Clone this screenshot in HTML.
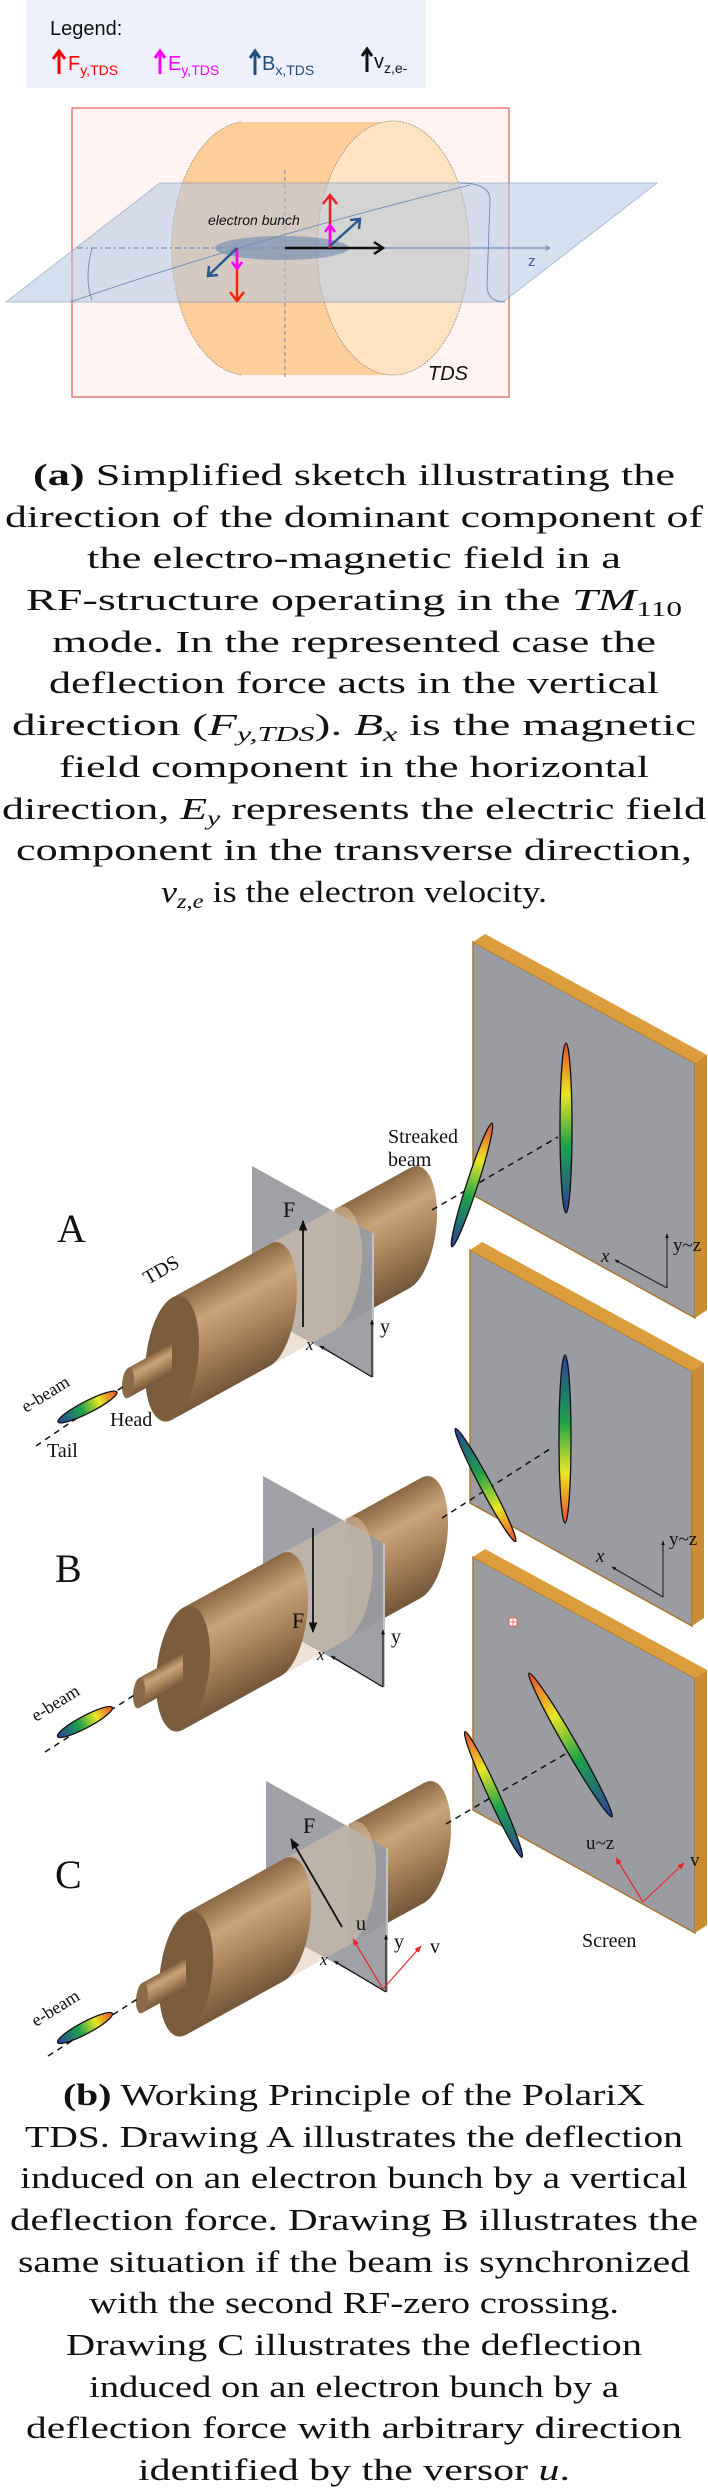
<!DOCTYPE html>
<html><head><meta charset="utf-8"><style>
html,body{margin:0;padding:0;background:#fff;}
svg{display:block;}
.cap{font-family:"Liberation Serif",serif;font-size:31px;fill:#111;}
.lab{font-family:"Liberation Serif",serif;fill:#111;}
.sans{font-family:"Liberation Sans",sans-serif;}
</style></head><body>
<svg width="708" height="2490" viewBox="0 0 708 2490" xmlns="http://www.w3.org/2000/svg">
<defs>
<linearGradient id="bodyG" x1="0" y1="0" x2="0" y2="1">
<stop offset="0" stop-color="#8a6843"/><stop offset="0.3" stop-color="#c9a47a"/><stop offset="0.55" stop-color="#b08a60"/><stop offset="1" stop-color="#74563a"/>
</linearGradient>
<linearGradient id="rb" x1="0" y1="0" x2="1" y2="0">
<stop offset="0" stop-color="#2b3f9c"/><stop offset="0.4" stop-color="#1ea24a"/><stop offset="0.7" stop-color="#e9e626"/><stop offset="1" stop-color="#ea4a2a"/>
</linearGradient>
<marker id="ah" viewBox="0 0 10 10" refX="9" refY="5" markerWidth="6" markerHeight="6" orient="auto"><path d="M0,1 L10,5 L0,9 z" fill="#111"/></marker>
<marker id="ahr" viewBox="0 0 10 10" refX="9" refY="5" markerWidth="6" markerHeight="6" orient="auto"><path d="M0,1 L10,5 L0,9 z" fill="#e8262a"/></marker>
<marker id="ahs" viewBox="0 0 10 10" refX="9" refY="5" markerWidth="4" markerHeight="4" orient="auto"><path d="M0,1 L10,5 L0,9 z" fill="#111"/></marker>
<marker id="ho" viewBox="0 0 10 10" refX="9" refY="5" markerWidth="7" markerHeight="7" orient="auto"><path d="M1,1 L9,5 L1,9" fill="none" stroke="#5a7db0" stroke-width="1.2"/></marker>

<g id="asm">
<g transform="matrix(1 -0.55 0 1 0 1453.4)">
<rect x="405" y="-15" width="25" height="30" fill="url(#bodyG)"/>
<ellipse cx="430" cy="0" rx="6" ry="15" fill="#a9865e"/>
<rect x="335" y="-60" width="75" height="120" fill="url(#bodyG)"/>
<ellipse cx="410" cy="0" rx="27" ry="60" fill="url(#bodyG)"/>
</g>
<polygon points="252,1166 373,1233 373,1377 252,1310" fill="#9a9ca2" opacity="0.95"/>
<line x1="373" y1="1233" x2="373" y2="1377" stroke="#bfc1c6" stroke-width="2"/>
<g transform="matrix(1 -0.55 0 1 0 1453.4)">
<path d="M270,-61 H335 A27,61 0 0 1 335,61 H270 Z" fill="#dcc6aa" opacity="0.5"/>
<path d="M172,-61 H270 A27,61 0 0 1 270,61 H172 Z" fill="url(#bodyG)"/>
<ellipse cx="172" cy="0" rx="27" ry="61" fill="#7b5c3c"/>
<rect x="128" y="-15" width="44" height="30" fill="url(#bodyG)"/>
<ellipse cx="128" cy="0" rx="6" ry="15" fill="#8a6a48"/>
</g>
<line x1="372" y1="1377" x2="372" y2="1320" stroke="#111" stroke-width="1.2" marker-end="url(#ahs)"/>
<line x1="372" y1="1377" x2="320" y2="1346" stroke="#111" stroke-width="1.2" marker-end="url(#ahs)"/>
<text x="380" y="1333" class="lab" font-size="20">y</text>
<text x="306" y="1350" class="lab" font-size="17" font-style="italic">x</text>
</g>

<g id="scr">
<polygon points="473,942 695,1063 695,1318 473,1195" fill="#9b9ca1" stroke="#a8782e" stroke-width="1.5"/>
<polygon points="473,942 485,934 707,1055 695,1063" fill="#dc9d3c"/>
<polygon points="695,1063 707,1055 707,1310 695,1318" fill="#c98c32"/>
</g>
</defs>

<!-- ============ TOP DIAGRAM (a) ============ -->
<rect x="27" y="0" width="399" height="88" fill="#eef0fb"/>
<text x="50" y="35" class="sans" font-size="20" fill="#111">Legend:</text>
<g stroke-width="3" fill="none">
<path d="M59,74 V52 M53,59 L59,51 L65,59" stroke="#f00"/>
<path d="M160,74 V52 M155,58 L160,51 L165,58" stroke="#f0f"/>
<path d="M255,75 V52 M250,58 L255,51 L260,58" stroke="#1f4e80"/>
<path d="M367,72 V50 M362,56 L367,49 L372,56" stroke="#111"/>
</g>
<g class="sans" font-size="20">
<text x="68" y="70" fill="#f00">F<tspan font-size="14" dy="5">y,TDS</tspan></text>
<text x="168" y="70" fill="#f0f">E<tspan font-size="14" dy="5">y,TDS</tspan></text>
<text x="262" y="70" fill="#1f4e80">B<tspan font-size="14" dy="5">x,TDS</tspan></text>
<text x="374" y="68" fill="#111">v<tspan font-size="14" dy="5">z,e-</tspan></text>
</g>
<rect x="72" y="108" width="437" height="289" fill="#fff4f2" stroke="#e4585a" stroke-width="1.2"/>
<path d="M241,122 H393 V375 H241 A76,127 0 0 1 241,122 Z" fill="#fdce99"/>
<path d="M241,122 A76,127 0 0 0 241,375" fill="none" stroke="#a09080" stroke-width="0.8" stroke-dasharray="2,1"/>
<ellipse cx="393" cy="248" rx="76" ry="127" fill="#ffe3c2" stroke="#a09080" stroke-width="0.8" stroke-dasharray="2,1"/>
<line x1="285" y1="170" x2="285" y2="380" stroke="#5a7db0" stroke-width="0.9" stroke-dasharray="4,3"/>
<polygon points="160,183 657,183 503,302 6,302" fill="#b4c8e4" opacity="0.55" stroke="#6a8ab5" stroke-width="1"/>
<path d="M70,302 Q250,240 470,185" fill="none" stroke="#6a8ab5" stroke-width="0.9"/>
<path d="M460,183 Q490,183 490,200 L487,285 Q487,302 505,302" fill="none" stroke="#6a8ab5" stroke-width="0.9"/>
<path d="M92,248 Q84,280 92,300" fill="none" stroke="#6a8ab5" stroke-width="0.9"/>
<line x1="77" y1="248" x2="285" y2="248" stroke="#5a7db0" stroke-width="0.9" stroke-dasharray="6,3,2,3"/>
<line x1="285" y1="248" x2="550" y2="248" stroke="#5a7db0" stroke-width="0.9" marker-end="url(#ho)"/>
<text x="528" y="266" class="sans" font-size="15" fill="#3a5f95">z</text>
<ellipse cx="282" cy="248" rx="67" ry="12" fill="#7a93b5" opacity="0.7"/>
<text x="208" y="225" class="sans" font-size="14" font-style="italic" fill="#111">electron bunch</text>
<g stroke-width="2.5" fill="none">
<path d="M285,248 H382 M374,242 L383,248 L374,254" stroke="#111"/>
<path d="M330,248 V196 M323,204 L330,195 L337,204" stroke="#e8202a"/>
<path d="M330,246 V226 M325,232 L330,225 L335,232" stroke="#f0f"/>
<path d="M330,246 L360,219 M350,220 L360,219 L359,229" stroke="#2a5a90"/>
<path d="M237,248 V300 M230,292 L237,301 L244,292" stroke="#f20"/>
<path d="M237,250 V268 M232,262 L237,269 L242,262" stroke="#f0f"/>
<path d="M237,248 L208,276 M209,266 L208,276 L218,275" stroke="#2a5a90"/>
</g>
<text x="428" y="380" class="sans" font-size="20" font-style="italic" fill="#111">TDS</text>

<!-- ============ CAPTION (a) ============ -->
<g class="cap" text-anchor="middle">
<text x="354" y="485" textLength="642" lengthAdjust="spacingAndGlyphs"><tspan font-weight="bold">(a)</tspan> Simplified sketch illustrating the</text>
<text x="354" y="527" textLength="698" lengthAdjust="spacingAndGlyphs">direction of the dominant component of</text>
<text x="354" y="568" textLength="534" lengthAdjust="spacingAndGlyphs">the electro-magnetic field in a</text>
<text x="354" y="610" textLength="656" lengthAdjust="spacingAndGlyphs">RF-structure operating in the <tspan font-style="italic">TM</tspan><tspan font-size="21" dy="6">110</tspan></text>
<text x="354" y="652" textLength="604" lengthAdjust="spacingAndGlyphs">mode. In the represented case the</text>
<text x="354" y="693" textLength="610" lengthAdjust="spacingAndGlyphs">deflection force acts in the vertical</text>
<text x="354" y="735" textLength="684" lengthAdjust="spacingAndGlyphs">direction (<tspan font-style="italic">F</tspan><tspan font-size="21" dy="6" font-style="italic">y,TDS</tspan><tspan dy="-6">). </tspan><tspan font-style="italic">B</tspan><tspan font-size="21" dy="6" font-style="italic">x</tspan><tspan dy="-6"> is the magnetic</tspan></text>
<text x="354" y="777" textLength="590" lengthAdjust="spacingAndGlyphs">field component in the horizontal</text>
<text x="354" y="819" textLength="704" lengthAdjust="spacingAndGlyphs">direction, <tspan font-style="italic">E</tspan><tspan font-size="21" dy="6" font-style="italic">y</tspan><tspan dy="-6"> represents the electric field</tspan></text>
<text x="354" y="860" textLength="676" lengthAdjust="spacingAndGlyphs">component in the transverse direction,</text>
<text x="354" y="902" textLength="386" lengthAdjust="spacingAndGlyphs"><tspan font-style="italic">v</tspan><tspan font-size="21" dy="6" font-style="italic">z,e</tspan><tspan dy="-6"> is the electron velocity.</tspan></text>
</g>

<!-- ============ FIGURE (b) ============ -->
<use href="#scr"/>
<use href="#scr" transform="translate(-3,308)"/>
<use href="#scr" transform="translate(0,615)"/>

<use href="#asm"/>
<use href="#asm" transform="translate(11,310)"/>
<use href="#asm" transform="translate(14,615)"/>

<g stroke="#111" stroke-width="1.5" stroke-dasharray="6,5" fill="none">
<line x1="36" y1="1446" x2="124" y2="1386"/>
<line x1="45" y1="1752" x2="136" y2="1694"/>
<line x1="48" y1="2056" x2="139" y2="1998"/>
<line x1="432" y1="1210" x2="558" y2="1137"/>
<line x1="442" y1="1518" x2="553" y2="1447"/>
<line x1="446" y1="1824" x2="567" y2="1753"/>
</g>

<g stroke="#111" stroke-width="1.3" fill="url(#rb)">
<ellipse cx="0" cy="0" rx="33" ry="6" transform="translate(87.5,1407) rotate(-27)"/>
<ellipse cx="0" cy="0" rx="31" ry="6" transform="translate(85,1722) rotate(-28)"/>
<ellipse cx="0" cy="0" rx="31" ry="6" transform="translate(85,2028) rotate(-28)"/>
<ellipse cx="0" cy="0" rx="65" ry="5.5" transform="translate(472,1185) rotate(-72)"/>
<ellipse cx="0" cy="0" rx="64" ry="5.5" transform="translate(485.5,1485) rotate(62)"/>
<ellipse cx="0" cy="0" rx="69" ry="5.5" transform="translate(493.5,1794.5) rotate(-114.5)"/>
<ellipse cx="0" cy="0" rx="85" ry="6" transform="translate(566,1128) rotate(-90)"/>
<ellipse cx="0" cy="0" rx="84" ry="6" transform="translate(565,1439) rotate(90)"/>
<ellipse cx="0" cy="0" rx="83" ry="6" transform="translate(570.5,1745) rotate(-120)"/>
</g>

<g stroke="#111" stroke-width="1.8">
<line x1="303" y1="1327" x2="303" y2="1221" marker-end="url(#ah)"/>
<line x1="313" y1="1528" x2="313" y2="1632" marker-end="url(#ah)"/>
<line x1="342" y1="1927" x2="291" y2="1839" marker-end="url(#ah)"/>
</g>
<g class="lab" font-size="22">
<text x="283" y="1217">F</text>
<text x="292" y="1628">F</text>
<text x="303" y="1833">F</text>
<text x="356" y="1930" font-size="20">u</text>
<text x="430" y="1953" font-size="20">v</text>
</g>
<g stroke="#e8262a" stroke-width="1.2">
<line x1="383" y1="1989" x2="353" y2="1939" marker-end="url(#ahr)"/>
<line x1="383" y1="1989" x2="421" y2="1946" marker-end="url(#ahr)"/>
<line x1="643" y1="1902" x2="616" y2="1858" marker-end="url(#ahr)"/>
<line x1="643" y1="1902" x2="684" y2="1863" marker-end="url(#ahr)"/>
</g>

<g stroke="#222" stroke-width="1.1">
<line x1="667" y1="1288" x2="667" y2="1234" marker-end="url(#ahs)"/>
<line x1="667" y1="1288" x2="615" y2="1260" marker-end="url(#ahs)"/>
<line x1="663" y1="1597" x2="663" y2="1541" marker-end="url(#ahs)"/>
<line x1="663" y1="1597" x2="612" y2="1567" marker-end="url(#ahs)"/>
</g>
<g class="lab" font-size="19">
<text x="601" y="1262" font-style="italic">x</text>
<text x="673" y="1251">y~z</text>
<text x="596" y="1562" font-style="italic">x</text>
<text x="669" y="1545">y~z</text>
<text x="586" y="1849">u~z</text>
<text x="690" y="1866">v</text>
<text x="582" y="1947" font-size="20">Screen</text>
</g>
<rect x="509" y="1618" width="8" height="8" fill="#fff" stroke="#e05050" stroke-width="1"/>
<path d="M513,1619 V1625 M510,1622 H516" stroke="#e05050" stroke-width="0.8"/>

<g class="lab">
<text x="57" y="1242" font-size="40">A</text>
<text x="55" y="1582" font-size="40">B</text>
<text x="55" y="1888" font-size="40">C</text>
<text x="0" y="0" font-size="20" transform="translate(148,1285) rotate(-30)">TDS</text>
<text x="0" y="0" font-size="18" transform="translate(26,1413) rotate(-32)">e-beam</text>
<text x="0" y="0" font-size="18" transform="translate(36,1722) rotate(-32)">e-beam</text>
<text x="0" y="0" font-size="18" transform="translate(36,2027) rotate(-32)">e-beam</text>
<text x="110" y="1426" font-size="20">Head</text>
<text x="47" y="1457" font-size="20">Tail</text>
<text x="388" y="1143" font-size="20">Streaked</text>
<text x="388" y="1166" font-size="20">beam</text>
</g>

<g class="cap" text-anchor="middle">
<text x="354" y="2105" textLength="582" lengthAdjust="spacingAndGlyphs"><tspan font-weight="bold">(b)</tspan> Working Principle of the PolariX</text>
<text x="354" y="2147" textLength="658" lengthAdjust="spacingAndGlyphs">TDS. Drawing A illustrates the deflection</text>
<text x="354" y="2188" textLength="668" lengthAdjust="spacingAndGlyphs">induced on an electron bunch by a vertical</text>
<text x="354" y="2230" textLength="688" lengthAdjust="spacingAndGlyphs">deflection force. Drawing B illustrates the</text>
<text x="354" y="2272" textLength="672" lengthAdjust="spacingAndGlyphs">same situation if the beam is synchronized</text>
<text x="354" y="2313" textLength="530" lengthAdjust="spacingAndGlyphs">with the second RF-zero crossing.</text>
<text x="354" y="2355" textLength="576" lengthAdjust="spacingAndGlyphs">Drawing C illustrates the deflection</text>
<text x="354" y="2397" textLength="530" lengthAdjust="spacingAndGlyphs">induced on an electron bunch by a</text>
<text x="354" y="2438" textLength="656" lengthAdjust="spacingAndGlyphs">deflection force with arbitrary direction</text>
<text x="354" y="2480" textLength="432" lengthAdjust="spacingAndGlyphs">identified by the versor <tspan font-style="italic">u</tspan>.</text>
</g>
</svg>
</body></html>
